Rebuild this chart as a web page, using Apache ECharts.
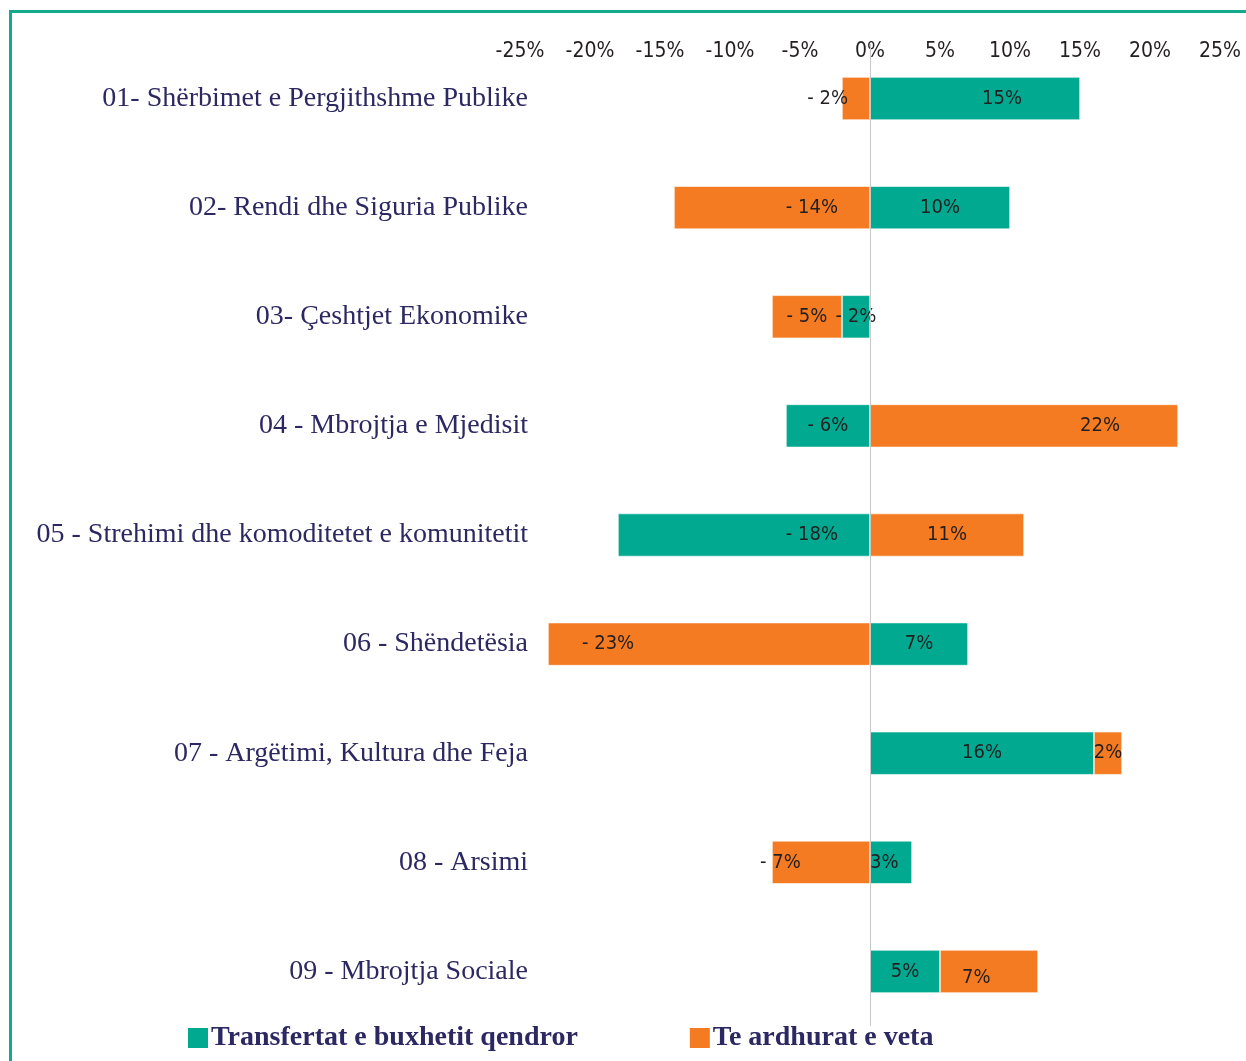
<!DOCTYPE html>
<html>
<head>
<meta charset="utf-8">
<script src="https://cdn.jsdelivr.net/npm/echarts@6/dist/echarts.min.js"></script>
<style>
  html, body { margin: 0; padding: 0; background: #ffffff; }
  #frame {
    position: absolute; left: 9px; top: 10px; width: 1240px; height: 1060px;
    border-left: 3px solid #13a98f; border-top: 3px solid #13a98f;
  }
  #chart { position: absolute; left: 0; top: 0; width: 1246px; height: 1061px; }
</style>
</head>
<body>
<div id="frame"></div>
<div id="chart"></div>
<script>
const categories = [
  '01- Shërbimet e Pergjithshme Publike',
  '02- Rendi dhe Siguria Publike',
  '03- Çeshtjet Ekonomike',
  '04 - Mbrojtja e Mjedisit',
  '05 - Strehimi dhe komoditetet e komunitetit',
  '06 - Shëndetësia',
  '07 - Argëtimi, Kultura dhe Feja',
  '08 - Arsimi',
  '09 - Mbrojtja Sociale'
]
const seriesNames = ['Transfertat e buxhetit qendror', 'Te ardhurat e veta']
const transfers = [15, 10, -2, -6, -18, 7, 16, 3, 5]
const ownRevenue = [-2, -14, -5, 22, 11, -23, 2, -7, 7]
const tickValues = [-25, -20, -15, -10, -5, 0, 5, 10, 15, 20, 25]

const TEAL = '#00a98f'
const ORANGE = '#f47b22'
const NAVY = '#2b2862'
const NUM_FONT = "'DejaVu Sans Condensed', 'Liberation Sans Narrow', sans-serif"

// a few labels sit off-centre in the original
const labelTweaks = {
  teal: {
    0: { position: 'insideRight', distance: 58 },
    4: { position: 'insideRight', distance: 32 },
    7: { position: 'insideLeft', distance: 0 }
  },
  orange: {
    0: { position: 'insideRight', distance: 22 },
    1: { position: 'insideRight', distance: 32 },
    3: { position: 'insideRight', distance: 58 },
    5: { position: 'insideLeft', distance: 34 },
    7: { position: 'insideLeft', distance: -12 },
    8: { position: 'insideLeft', distance: 22, offset: [0, 6] }
  }
}

const fmt = v => (v < 0 ? '- ' + Math.abs(v) : v) + '%'

const buildData = (values, key) => values.map((v, i) => {
  const t = labelTweaks[key][i]
  return t ? { value: v, label: t } : v
})

const chartDom = document.getElementById('chart')
const myChart = echarts.init(chartDom)

const valueLabel = {
  show: true,
  position: 'inside',
  fontFamily: NUM_FONT,
  fontSize: 20,
  color: '#231f20',
  formatter: p => fmt(p.value)
}

const option = {
  animation: false,
  grid: { left: 520, right: 26, top: 44, bottom: 35, containLabel: false },
  legend: {
    data: seriesNames,
    left: 186,
    top: 1024,
    padding: 0,
    icon: 'rect',
    itemWidth: 22,
    itemHeight: 22,
    itemGap: 110,
    textStyle: {
      fontFamily: "'Liberation Serif', serif",
      fontWeight: 'bold',
      fontSize: 28,
      color: NAVY,
      padding: [0, 0, 0, -3]
    }
  },
  xAxis: {
    type: 'value',
    position: 'top',
    min: -25,
    max: 25,
    interval: 5,
    axisLine: { show: false },
    axisTick: { show: false },
    splitLine: { show: false },
    axisLabel: {
      inside: true,
      margin: -3,
      fontFamily: NUM_FONT,
      fontSize: 21,
      color: '#231f20',
      formatter: v => tickValues.includes(v) ? v + '%' : ''
    }
  },
  yAxis: {
    type: 'category',
    data: categories,
    inverse: true,
    axisLine: { show: false, onZero: false },
    axisTick: { show: false },
    axisLabel: {
      margin: -8,
      fontFamily: "'Liberation Serif', serif",
      fontSize: 28,
      color: NAVY
    }
  },
  series: [
    {
      name: seriesNames[0],
      type: 'bar',
      stack: 'total',
      barWidth: 43,
      data: buildData(transfers, 'teal'),
      itemStyle: { color: TEAL, borderColor: '#ffffff', borderWidth: 0.6 },
      label: valueLabel,
      markLine: {
        silent: true,
        symbol: 'none',
        label: { show: false },
        lineStyle: { color: '#c8c8c8', type: 'solid', width: 1 },
        data: [{ xAxis: 0 }]
      }
    },
    {
      name: seriesNames[1],
      type: 'bar',
      stack: 'total',
      barWidth: 43,
      data: buildData(ownRevenue, 'orange'),
      itemStyle: { color: ORANGE, borderColor: '#ffffff', borderWidth: 0.6 },
      label: valueLabel
    }
  ]
}

option && myChart.setOption(option)
</script>
</body>
</html>
